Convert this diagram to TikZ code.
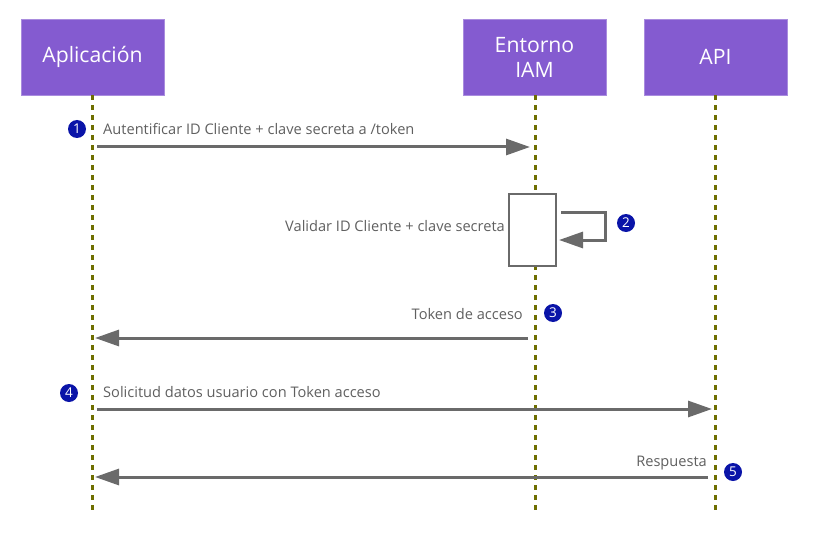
\documentclass[tikz,border=0pt]{standalone}
\usepackage{fontspec}
\setmainfont{Open Sans}
\usetikzlibrary{arrows.meta}
\definecolor{boxpurple}{HTML}{845BD0}
\definecolor{lifeolive}{HTML}{6E6E00}
\definecolor{arrowgray}{HTML}{6A6A6A}
\definecolor{textgray}{HTML}{5F5F5F}
\definecolor{badgeblue}{HTML}{0A14A8}
\tikzset{
  actor/.style={fill=boxpurple, draw=boxpurple!70!white, line width=0.6pt, minimum width=143pt, minimum height=76pt, inner sep=0pt, text=white, font=\fontsize{21.2}{25}\selectfont, align=center},
  lifeline/.style={draw=lifeolive, line width=3pt, dash pattern=on 5pt off 5pt},
  msg/.style={draw=arrowgray, line width=3pt, -{Triangle[length=24pt, width=16pt]}},
  msglabel/.style={text=textgray, font=\fontsize{14.6}{17}\selectfont, inner sep=0pt},
  badge/.style={circle, fill=badgeblue, text=white, minimum size=18pt, inner sep=0pt, font=\fontsize{13.5}{13.5}\selectfont},
  actbox/.style={draw=arrowgray, line width=1.5pt, fill=white, minimum width=47pt, minimum height=72pt, inner sep=0pt}
}
\begin{document}
\begin{tikzpicture}[x=1pt, y=-1pt]
\useasboundingbox (0,0) rectangle (813,540);
% actors
\node[actor] (app) at (92.5,57) {Aplicación};
\node[actor] (iam) at (534.5,57) {Entorno\\IAM};
\node[actor] (api) at (715.5,57) {API};
% lifeline ends
\coordinate (append) at (92,515);
\coordinate (iamend) at (535,515);
\coordinate (apiend) at (715,515);
\draw[lifeline] (app.south -| append) -- (append);
\draw[lifeline] (iam.south -| iamend) -- (iamend);
\draw[lifeline] (api.south -| apiend) -- (apiend);
% activation box
\node[actbox] (act) at (532.5,230) {};
% message anchor points
\coordinate (m1s) at (97,147);
\coordinate (m1e) at (530,147);
\coordinate (m3s) at (528,338);
\coordinate (m3e) at (95,338);
\coordinate (m4s) at (97,409);
\coordinate (m4e) at (712,409);
\coordinate (m5s) at (708,477);
\coordinate (m5e) at (95,477);
\coordinate (s1) at (561,212);
\coordinate (s2) at (605,212);
\coordinate (s3) at (605,240);
\coordinate (s4) at (559,240);
% messages
\draw[msg] (m1s) -- (m1e);
\draw[msg] (m3s) -- (m3e);
\draw[msg] (m4s) -- (m4e);
\draw[msg] (m5s) -- (m5e);
\draw[msg, line join=miter] (s1) -- (s2) -- (s3) -- (s4);
% labels
\node[msglabel, anchor=base west] (l1) at (103,135) {Autentificar ID Cliente + clave secreta a /token};
\node[msglabel, anchor=base east] (l2) at (505,231) {Validar ID Cliente + clave secreta};
\node[msglabel, anchor=base east] (l3) at (523,319) {Token de acceso};
\node[msglabel, anchor=base west] (l4) at (103,397) {Solicitud datos usuario con Token acceso};
\node[msglabel, anchor=base east] (l5) at (707,466) {Respuesta};
% badges
\node[badge] (b1) at (77,129) {1};
\node[badge] (b2) at (626,223) {2};
\node[badge] (b3) at (553,313) {3};
\node[badge] (b4) at (69,393) {4};
\node[badge] (b5) at (733,472) {5};
\end{tikzpicture}
\end{document}
